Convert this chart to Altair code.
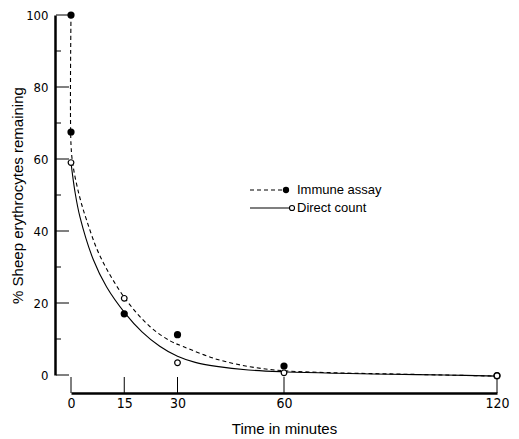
import altair as alt
import pandas as pd

# ---- data ----
immune_t = [0, 0, 15, 30, 60, 120]
immune_pct = [100, 67.5, 17.0, 11.2, 2.5, -0.2]
direct_t = [0, 15, 30, 60, 120]
direct_pct = [59.0, 21.3, 3.4, 0.6, -0.2]

immune_fit_t = [0, 0, 0.6, 2.3, 4.4, 8.2, 15.2, 22.3, 27.9, 31.6, 41, 50.4, 59.7, 75, 90, 105, 120]
immune_fit_pct = [100, 64, 58, 50, 43, 33, 21.3, 13.4, 9.5, 7.9, 4.4, 2.3, 1.2, 0.6, 0.3, 0.0, -0.3]
direct_fit_t = [0, 1.1, 2.5, 6.3, 10, 15.2, 20, 25, 30, 35, 41, 50, 59.7, 75, 90, 105, 120]
direct_fit_pct = [59, 51, 44, 32, 24.5, 17.2, 12, 8, 5.2, 3.5, 2.4, 1.4, 0.9, 0.5, 0.2, 0.0, -0.3]

x_ticks = [0, 15, 30, 60, 120]
y_major = [0, 20, 40, 60, 80, 100]
y_minor = [10, 30, 50, 70, 90]
legend_labels = ["Immune assay", "Direct count"]

W, H = 426, 360
LABEL_FONT = "Liberation Sans Narrow, DejaVu Sans Condensed, sans-serif"
TITLE_FONT = "Liberation Sans, Arial, sans-serif"

xs = alt.Scale(domain=[0, 120], nice=False, zero=False)
ys = alt.Scale(domain=[0, 100], nice=False, zero=False)

x_axis = alt.Axis(values=x_ticks, offset=18, domainWidth=2.5, domainColor="black",
                  ticks=False, labelPadding=3, labelFont=LABEL_FONT, labelFontSize=14,
                  labelColor="black", labelFlush=False, labelOverlap=False, grid=False,
                  title="Time in minutes", titleFont=TITLE_FONT, titleFontSize=15,
                  titleFontWeight="normal", titleColor="black", titlePadding=11)
y_axis = alt.Axis(values=y_major, offset=16, domainWidth=2.5, domainColor="black",
                  ticks=False, labelPadding=7, labelFont=LABEL_FONT, labelFontSize=13,
                  labelColor="black", labelFlush=False, labelOverlap=False, grid=False,
                  title="% Sheep erythrocytes remaining", titleFont=TITLE_FONT,
                  titleFontSize=15, titleFontWeight="normal", titleColor="black",
                  titlePadding=0)


def X(field):
    return alt.X(field, scale=xs, axis=x_axis)


def Y(field):
    return alt.Y(field, scale=ys, axis=y_axis)


imm_fit = pd.DataFrame({"t": immune_fit_t, "p": immune_fit_pct, "i": range(len(immune_fit_t))})
dir_fit = pd.DataFrame({"t": direct_fit_t, "p": direct_fit_pct, "i": range(len(direct_fit_t))})
imm_pts = pd.DataFrame({"t": immune_t, "p": immune_pct})
dir_pts = pd.DataFrame({"t": direct_t, "p": direct_pct})

dashed = alt.Chart(imm_fit).mark_line(
    interpolate="catmull-rom", strokeDash=[4, 3], color="black", strokeWidth=1.1, clip=False
).encode(x=X("t:Q"), y=Y("p:Q"), order="i:Q")

solid = alt.Chart(dir_fit).mark_line(
    interpolate="catmull-rom", color="black", strokeWidth=1.1, clip=False
).encode(x=X("t:Q"), y=Y("p:Q"), order="i:Q")

filled = alt.Chart(imm_pts).mark_point(
    filled=True, shape="circle", size=52, color="black", opacity=1, clip=False
).encode(x=X("t:Q"), y=Y("p:Q"))

opened = alt.Chart(dir_pts).mark_point(
    shape="circle", size=32, fill="white", stroke="black", strokeWidth=1.2,
    filled=False, opacity=1, fillOpacity=1, clip=False
).encode(x=X("t:Q"), y=Y("p:Q"))

y_major_ticks = alt.Chart(pd.DataFrame({"p": y_major})).mark_rule(
    color="black", strokeWidth=1
).encode(y=Y("p:Q"), x=alt.value(-15), x2=alt.value(-2))

y_minor_ticks = alt.Chart(pd.DataFrame({"p": y_minor})).mark_rule(
    color="black", strokeWidth=1
).encode(y=Y("p:Q"), x=alt.value(-15), x2=alt.value(-10))

x_tick_marks = alt.Chart(pd.DataFrame({"t": x_ticks})).mark_rule(
    color="black", strokeWidth=1
).encode(x=X("t:Q"), y=alt.value(362), y2=alt.value(378))

# ---- legend (drawn by hand) ----
leg_y = [175, 193]
leg1 = pd.DataFrame({"label": [legend_labels[0]]})
leg2 = pd.DataFrame({"label": [legend_labels[1]]})

leg_dash = alt.Chart(leg1).mark_rule(color="black", strokeDash=[4, 3], strokeWidth=1.1).encode(
    x=alt.value(179), x2=alt.value(214), y=alt.value(leg_y[0]))
leg_dot = alt.Chart(leg1).mark_point(filled=True, shape="circle", size=40, color="black", opacity=1).encode(
    x=alt.value(215), y=alt.value(leg_y[0]))
leg_txt1 = alt.Chart(leg1).mark_text(align="left", baseline="middle", font=TITLE_FONT,
                                     fontSize=13, color="black").encode(
    x=alt.value(226), y=alt.value(leg_y[0]), text="label:N")

leg_line = alt.Chart(leg2).mark_rule(color="black", strokeWidth=1.1).encode(
    x=alt.value(179), x2=alt.value(218), y=alt.value(leg_y[1]))
leg_circ = alt.Chart(leg2).mark_point(shape="circle", size=26, fill="white", stroke="black",
                                      strokeWidth=1.1, filled=False, opacity=1, fillOpacity=1).encode(
    x=alt.value(221), y=alt.value(leg_y[1]))
leg_txt2 = alt.Chart(leg2).mark_text(align="left", baseline="middle", font=TITLE_FONT,
                                     fontSize=13, color="black").encode(
    x=alt.value(226), y=alt.value(leg_y[1]), text="label:N")

chart = alt.layer(
    dashed, solid, y_major_ticks, y_minor_ticks, x_tick_marks, filled, opened,
    leg_dash, leg_dot, leg_txt1, leg_line, leg_circ, leg_txt2,
).properties(
    width=W, height=H,
    autosize=alt.AutoSizeParams(type="none"),
    padding={"left": 71, "top": 15, "right": 22, "bottom": 64},
    background="white",
).configure_view(stroke=None)

chart.save("out.html", embed_options={"renderer": "svg", "actions": False})
